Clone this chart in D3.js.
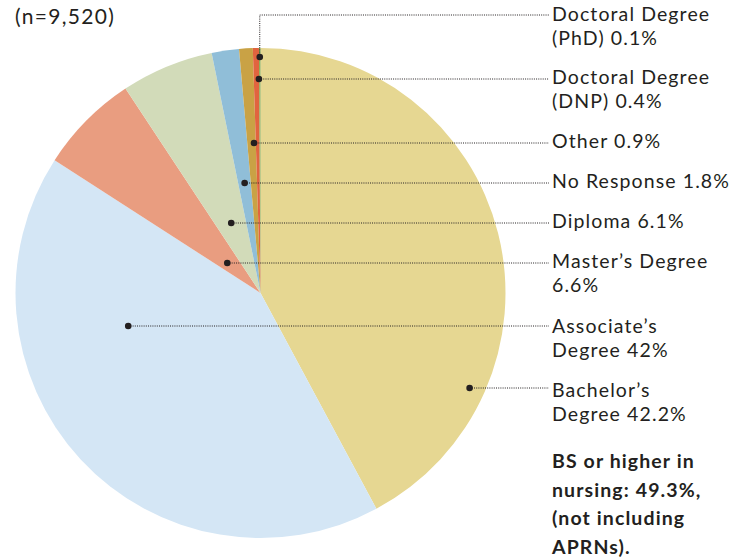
<!DOCTYPE html>
<html>
<head>
<meta charset="utf-8">
<script src="https://cdn.jsdelivr.net/npm/d3@7"></script>
<style>
  body { margin: 0; background: #fff; }
  text { font-family: Lato, "Open Sans", sans-serif; fill: #231f20; }
</style>
</head>
<body>
<svg></svg>
<script>
var WIDTH = 748;
var HEIGHT = 558;

// data, clockwise from 12 o'clock
var categories = ["Bachelor's Degree", "Associate's Degree", "Master's Degree", "Diploma",
                  "No Response", "Other", "Doctoral Degree (DNP)", "Doctoral Degree (PhD)"];
var values = [42.2, 42, 6.6, 6.1, 1.8, 0.9, 0.4, 0.1];
var colors = ["#e6d792", "#d4e6f5", "#e99d80", "#d2dbb9", "#90bed8", "#c9a245", "#e1643f", "#86a94f"];
var labelLines = [
    ["Bachelor\u2019s", "Degree 42.2%"],
    ["Associate\u2019s", "Degree 42%"],
    ["Master\u2019s Degree", "6.6%"],
    ["Diploma 6.1%"],
    ["No Response 1.8%"],
    ["Other 0.9%"],
    ["Doctoral Degree", "(DNP) 0.4%"],
    ["Doctoral Degree", "(PhD) 0.1%"]
];
var sampleNote = "(n=9,520)";
var footNote = ["BS or higher in", "nursing: 49.3%,", "(not including", "APRNs)."];

// annotation layout
var dotFrac = [0.754, 0.69, 0.39, 0.49, 0.51, 0.79, 0.95, 0.5];
var dotY    = [388, 326, 263, 223, 183, 143, 79, 57];
var leaderY = [388, 326, 263, 223, 183, 143, 79, 15];
var labelY  = [397, 333, 268, 228, 188, 148, 84, 21];

var CX = 260.5, CY = 293, R = 245;
var LABEL_X = 552;
var LINE_END = 549;

var svg = d3.select("svg")
    .attr("width", WIDTH)
    .attr("height", HEIGHT);

var pie = d3.pie().sort(null).value(function(d) { return d; });
var arcs = pie(values);
var arc = d3.arc().innerRadius(0).outerRadius(R);

var g = svg.append("g").attr("transform", "translate(" + CX + "," + CY + ")");

g.selectAll("path")
    .data(arcs)
    .enter().append("path")
    .attr("d", arc)
    .attr("fill", function(d, i) { return colors[i]; });

// dots sit on a ray inside their slice, at the height of the leader
function dotPos(d, i)
{
    var a = d.startAngle + dotFrac[i] * (d.endAngle - d.startAngle);
    var c = -Math.cos(a);
    var r = (dotY[i] - CY) / c;
    return [CX + r * Math.sin(a), CY + r * c];
}

var leaders = svg.append("g");

leaders.selectAll("path")
    .data(arcs)
    .enter().append("path")
    .attr("fill", "none")
    .attr("stroke", "#231f20")
    .attr("stroke-width", 1)
    .attr("stroke-dasharray", "1,1.2")
    .attr("d", function(d, i)
    {
        var p = dotPos(d, i);
        return "M" + p[0] + "," + p[1] + "V" + leaderY[i] + "H" + LINE_END;
    });

leaders.selectAll("circle")
    .data(arcs)
    .enter().append("circle")
    .attr("r", 3.3)
    .attr("fill", "#231f20")
    .attr("cx", function(d, i) { return dotPos(d, i)[0]; })
    .attr("cy", function(d, i) { return dotPos(d, i)[1]; });

var labels = svg.append("g")
    .selectAll("text")
    .data(labelLines)
    .enter().append("text")
    .attr("x", LABEL_X)
    .attr("y", function(d, i) { return labelY[i]; })
    .attr("font-size", 19.5)
    .attr("letter-spacing", 1.1);

labels.selectAll("tspan")
    .data(function(d) { return d; })
    .enter().append("tspan")
    .attr("x", LABEL_X)
    .attr("dy", function(d, j) { return j == 0 ? 0 : 23.5; })
    .text(function(d) { return d; });

svg.append("text")
    .attr("x", 15)
    .attr("y", 24)
    .attr("font-size", 21)
    .attr("letter-spacing", 1.3)
    .text(sampleNote);

svg.append("g")
    .selectAll("text")
    .data(footNote)
    .enter().append("text")
    .attr("x", LABEL_X)
    .attr("y", function(d, i) { return 468 + i * 28.7; })
    .attr("font-size", 19.5)
    .attr("font-weight", 700)
    .attr("letter-spacing", 1.1)
    .text(function(d) { return d; });
</script>
</body>
</html>
